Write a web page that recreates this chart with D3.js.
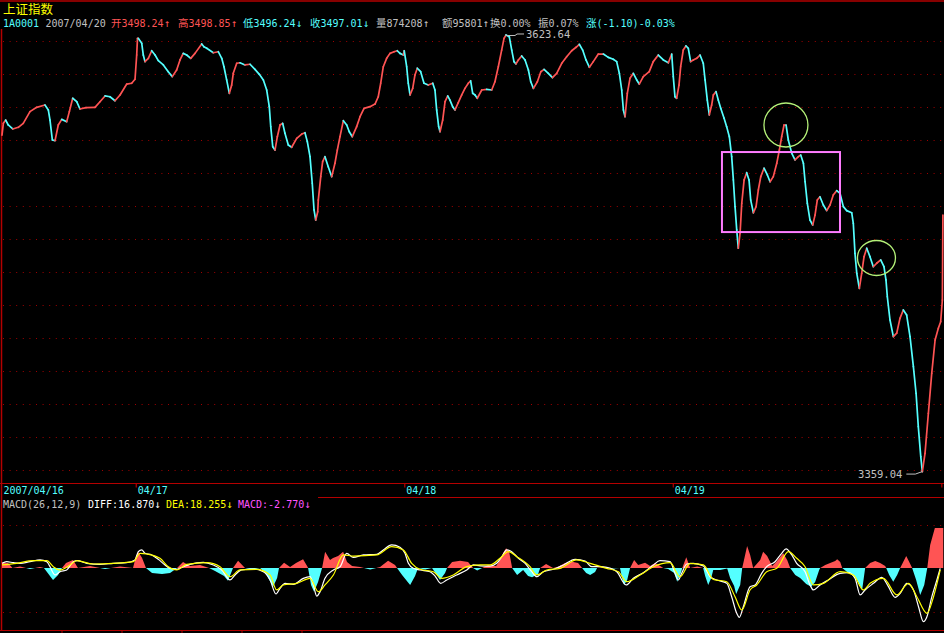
<!DOCTYPE html>
<html><head><meta charset="utf-8">
<script src="https://cdn.jsdelivr.net/npm/d3@7"></script>
<style>
html,body{margin:0;padding:0;background:#000;overflow:hidden}
svg{display:block}
</style></head><body>
<svg id="c" width="944" height="633"></svg>
<script>
// ---------------- DATA ----------------
const indexName = "上证指数";
const indexCode = "1A0001";
const quoteDate = "2007/04/20";
const quoteLabels = ["开","高","低","收","量","额","换","振"];
const quoteValues = ["3498.24","3498.85","3496.24","3497.01","874208","95801","0.00%","0.07%"];
const quoteArrows = ["↑","↑","↓","↓","↑","↑","",""];
const changeLabel = "涨";
const changeValue = "(-1.10)-0.03%";

const dayLabels = ["2007/04/16","04/17","04/18","04/19"];
const dayStartMinute = [0,120,360,600];
const dayTickMinute = [120,360,600,840];
const priceGridTicks = [3360,3380,3400,3420,3440,3460,3480,3500,3520,3540,3560,3580,3600,3620];
const macdGridTicks = [-40,40];

// [minute from start of window, index price]
const priceSeries = [
[0,3563.0],[1.2,3570.1],[3.3,3572.1],[5.6,3569.1],[9.6,3566.7],[14.6,3567.7],[19.0,3570.1],[25.0,3577.2],[31.0,3579.8],[38.4,3581.2],
[41.4,3578.2],[42.9,3572.1],[45.0,3560.0],[47.4,3559.6],[50.3,3569.1],[53.4,3572.5],[57.8,3571.1],[60.2,3577.2],[63.2,3585.3],[66.8,3583.2],
[69.7,3578.8],[75.1,3579.6],[83.1,3579.8],[87.6,3583.2],[92.1,3586.7],[96.5,3586.2],[101.0,3583.8],[105.5,3587.3],[111.5,3593.9],[115.9,3594.4],
[118.9,3596.8],[120.4,3611.5],[121.1,3621.6],[121.8,3621.6],[124.9,3618.6],[126.3,3611.5],[127.8,3607.5],[130.8,3609.5],[133.8,3614.1],[136.8,3611.5],
[139.7,3608.1],[144.2,3605.5],[148.6,3601.4],[152.2,3598.4],[156.1,3602.4],[159.1,3608.5],[162.0,3612.5],[165.1,3611.5],[168.7,3609.5],[172.5,3612.5],
[178.5,3618.2],[180.5,3616.5],[183.0,3615.6],[188.9,3612.9],[193.3,3613.5],[196.4,3609.5],[198.4,3604.4],[200.8,3596.4],[203.2,3588.3],[205.3,3593.3],
[206.7,3600.4],[209.8,3606.5],[212.7,3606.8],[217.2,3605.5],[221.7,3605.9],[226.1,3602.8],[230.0,3599.8],[233.6,3596.4],[236.6,3590.3],[238.9,3580.2],
[240.2,3568.1],[242.0,3555.9],[244.0,3553.9],[246.1,3562.0],[248.5,3569.1],[250.9,3570.1],[252.9,3564.1],[255.9,3557.0],[258.9,3555.6],[263.4,3561.0],
[267.9,3563.6],[270.8,3564.4],[272.9,3559.0],[275.3,3549.9],[277.3,3533.8],[278.9,3517.6],[280.4,3511.5],[282.2,3516.5],[282.7,3523.6],[284.9,3537.8],
[286.6,3546.9],[288.7,3549.9],[291.6,3543.8],[294.7,3537.8],[297.6,3545.9],[299.7,3553.9],[302.1,3562.0],[305.1,3571.7],[308.1,3569.1],[310.4,3565.0],
[313.1,3562.0],[317.0,3568.1],[320.0,3574.1],[323.6,3579.2],[328.9,3580.2],[333.4,3581.8],[336.3,3586.2],[338.5,3594.4],[340.8,3604.4],[343.8,3609.5],
[346.8,3612.5],[350.4,3613.5],[353.3,3614.1],[355.7,3612.5],[358.7,3611.5],[359.5,3614.1],[361.7,3604.4],[363.1,3594.4],[364.7,3587.3],[367.1,3591.3],
[369.1,3599.4],[371.2,3603.5],[374.2,3601.4],[377.2,3594.4],[381.0,3593.3],[385.0,3594.4],[387.0,3590.3],[388.5,3578.2],[390.3,3568.1],[391.5,3565.0],
[393.9,3572.1],[396.0,3583.2],[398.4,3586.7],[400.4,3584.2],[402.8,3580.2],[404.9,3578.2],[407.8,3582.6],[410.9,3587.3],[413.8,3591.3],[416.8,3594.4],
[418.9,3595.9],[420.7,3588.3],[422.8,3587.3],[424.8,3585.3],[428.8,3590.3],[433.2,3590.7],[437.7,3590.3],[440.6,3595.3],[443.6,3604.4],[446.6,3614.5],
[448.7,3621.6],[450.5,3623.64],[453.4,3622.6],[455.6,3614.5],[457.6,3607.5],[459.4,3606.1],[461.5,3608.5],[464.5,3610.9],[467.5,3608.5],[470.5,3602.4],
[472.6,3595.3],[475.0,3591.3],[478.5,3595.3],[481.6,3601.4],[484.5,3602.8],[488.3,3600.4],[492.0,3597.8],[495.8,3600.4],[500.3,3606.5],[504.7,3610.5],
[509.2,3614.1],[513.1,3616.2],[516.0,3618.0],[519.0,3614.5],[522.0,3608.5],[525.0,3604.1],[528.5,3607.5],[533.0,3612.1],[537.5,3612.1],[541.9,3610.1],
[546.4,3608.9],[549.4,3607.5],[551.8,3600.4],[553.9,3590.3],[555.4,3578.2],[556.9,3574.1],[558.9,3588.3],[561.3,3597.4],[564.3,3600.4],[567.3,3596.4],
[569.6,3593.9],[573.2,3598.4],[578.5,3601.4],[582.1,3607.5],[586.6,3611.5],[591.1,3608.5],[595.6,3606.8],[598.6,3612.1],[600.0,3598.4],[601.5,3586.2],
[603.0,3585.3],[605.1,3593.3],[606.6,3604.4],[608.9,3614.5],[611.3,3617.0],[613.4,3615.6],[615.5,3607.5],[617.9,3608.5],[620.9,3609.5],[623.9,3611.5],
[626.8,3606.5],[628.4,3596.4],[630.4,3584.2],[632.2,3575.2],[634.3,3581.2],[635.8,3587.3],[638.2,3589.3],[640.2,3584.2],[642.4,3579.2],[645.4,3573.2],
[647.7,3568.1],[650.1,3562.0],[652.2,3549.9],[653.7,3535.8],[655.2,3519.6],[656.7,3505.5],[658.1,3494.4],[659.7,3503.5],[661.2,3521.6],[663.3,3535.8],
[665.6,3540.2],[667.7,3535.8],[669.2,3523.6],[671.6,3515.9],[674.0,3519.6],[676.0,3529.7],[678.2,3537.8],[681.1,3542.9],[684.1,3538.8],[686.5,3534.7],
[689.4,3537.8],[692.5,3545.9],[694.8,3553.9],[696.9,3562.0],[699.0,3569.1],[700.8,3569.1],[702.8,3560.0],[705.9,3551.9],[708.8,3547.9],[711.8,3549.9],
[713.9,3550.9],[716.3,3545.9],[717.8,3534.7],[719.8,3521.6],[722.2,3511.5],[724.6,3508.5],[726.7,3514.5],[728.7,3523.6],[731.1,3525.6],[734.1,3520.6],
[737.1,3517.2],[740.1,3520.6],[743.0,3526.7],[746.1,3529.3],[749.0,3527.7],[752.0,3519.6],[755.0,3517.2],[759.5,3515.9],[760.9,3509.5],[762.4,3491.3],
[764.0,3479.2],[766.3,3470.1],[768.4,3479.2],[770.5,3489.3],[772.9,3494.4],[775.8,3489.3],[778.8,3483.2],[781.8,3485.3],[785.4,3487.3],[788.3,3483.2],
[790.1,3475.2],[791.3,3465.0],[793.7,3450.9],[796.7,3440.8],[799.7,3442.9],[802.6,3451.9],[805.6,3457.0],[808.6,3453.9],[811.6,3440.8],[814.6,3422.6],
[817.0,3406.5],[819.0,3386.3],[821.2,3368.1],[822.6,3359.04],[825.0,3370.1],[828.0,3394.4],[831.0,3418.6],[834.0,3438.8],[836.9,3445.9],[839.0,3449.9],
[840.5,3463.0],[841.0,3514.5]
];
const highMark = [450.5, 3623.64];
const lowMark = [822.6, 3359.04];

// MACD(26,12,9)
const macdParams = "MACD(26,12,9)";
const macdLabels = ["DIFF","DEA","MACD"];
const macdValues = ["16.870","18.255","-2.770"];
const diffSeries = [
[0,4.3],[4.2,5.8],[10.1,4.9],[16.1,4.3],[25.0,5.8],[34.0,7.4],[40.0,5.8],[42.9,1.2],[47.4,-6.4],[51.9,-3.4],[57.8,-1.8],[63.7,5.8],[67.3,6.7],
[75.7,4.3],[87.6,3.4],[99.5,4.3],[111.5,4.9],[118.9,7.4],[121.8,15.0],[124.9,16.6],[127.8,13.5],[133.8,12.0],[139.7,8.0],[145.7,2.8],[150.2,-0.3],
[156.2,-1.2],[162.1,1.2],[168.1,3.4],[179.9,5.2],[188.9,2.8],[196.4,-1.8],[203.8,-11.0],[208.3,-6.4],[214.3,-1.8],[224.6,-0.9],[233.6,-3.4],[239.6,-11.0],
[244.9,-23.9],[248.5,-18.7],[253.0,-14.1],[260.4,-15.0],[269.3,-9.5],[275.3,-8.0],[278.3,-15.6],[281.3,-25.8],[284.3,-21.8],[288.7,-9.5],[296.2,-1.8],
[302.2,1.2],[308.1,13.5],[314.0,9.8],[323.0,12.0],[335.0,12.6],[340.8,16.6],[348.3,21.2],[355.7,19.0],[360.2,13.5],[363.2,4.3],[367.6,-0.3],[373.6,-1.8],
[382.6,-3.4],[387.1,-7.4],[392.1,-14.1],[397.5,-11.0],[406.4,-6.4],[415.4,-1.8],[421.3,2.8],[427.3,2.0],[436.2,1.8],[442.2,4.3],[446.7,10.4],[451.2,16.6],
[455.6,15.0],[461.6,8.9],[467.6,4.3],[473.5,-3.4],[478.0,-8.0],[483.9,-3.4],[492.9,-1.2],[501.8,2.8],[512.3,8.0],[521.2,6.4],[527.1,1.2],[534.6,1.2],
[540.5,0.6],[549.5,-3.4],[557.8,-15.6],[564.3,-9.5],[573.2,-4.3],[582.2,2.8],[588.1,6.7],[597.1,5.8],[601.5,-4.9],[604.5,-11.0],[607.5,-4.9],[612.0,3.7],
[617.9,4.3],[626.9,1.8],[632.8,-8.0],[638.8,-11.0],[647.8,-14.1],[652.2,-26.4],[656.7,-41.7],[659.0,-45.4],[662.6,-35.6],[668.6,-17.2],[673.1,-15.6],
[679.0,-4.9],[683.5,1.2],[690.9,5.8],[696.9,13.5],[700.8,17.5],[705.9,12.0],[710.3,4.3],[717.8,-3.4],[722.2,-15.6],[725.2,-20.2],[731.2,-15.6],[738.6,-11.0],
[749.1,-4.9],[756.5,-4.3],[762.5,-9.5],[767.0,-24.8],[771.4,-20.2],[778.9,-14.1],[786.4,-8.6],[792.3,-17.2],[798.3,-27.0],[802.8,-23.3],[808.8,-14.1],
[814.7,-20.2],[819.2,-35.6],[823.6,-49.4],[826.7,-44.8],[831.1,-26.4],[835.6,-11.0],[838.6,-0.3]
];
const deaSeries = [
[0,2.8],[13.1,4.3],[28.0,6.7],[40.0,6.7],[45.9,1.2],[51.8,-1.8],[60.8,2.8],[66.8,6.7],[81.6,3.7],[99.5,4.3],[117.4,5.8],[123.4,13.5],[129.3,12.9],
[141.2,8.9],[148.6,1.2],[156.2,-1.8],[165.1,3.4],[183.0,4.9],[194.9,1.2],[203.8,-8.0],[212.7,-1.8],[227.7,-1.2],[239.6,-6.4],[245.5,-20.2],[251.4,-15.6],
[263.4,-14.1],[275.3,-9.5],[282.7,-21.8],[288.7,-15.6],[296.2,-6.4],[305.1,12.0],[314.0,11.0],[335.0,12.0],[348.3,19.6],[358.7,16.6],[366.2,4.3],
[373.6,-1.2],[385.5,-3.4],[393.0,-9.5],[403.4,-6.4],[415.4,1.2],[427.3,2.8],[436.2,2.8],[445.1,8.9],[452.6,15.0],[460.1,10.4],[472.0,1.2],[478.0,-6.4],
[486.9,-1.8],[498.8,-0.3],[513.7,7.4],[525.6,4.3],[540.5,-0.3],[550.9,-3.4],[558.4,-12.6],[570.3,-6.4],[582.2,1.2],[597.1,4.9],[606.1,-8.0],[615.0,4.3],
[626.9,2.8],[635.8,-10.4],[647.8,-12.6],[655.2,-26.4],[661.2,-38.6],[668.6,-20.2],[674.6,-15.6],[683.5,-3.4],[692.5,-0.3],[702.9,15.0],[710.3,8.9],
[717.8,1.2],[725.2,-15.6],[734.2,-14.1],[749.1,-3.4],[761.0,-6.4],[769.9,-20.2],[775.9,-14.1],[787.8,-9.5],[799.8,-24.8],[810.2,-14.1],[817.7,-26.4],
[826.7,-41.7],[832.6,-26.4],[838.6,-1.8]
];
const histSeries = [
[0,4.9],[5.4,4.6],[9.4,0],[16.1,1.4],[25,-0.9],[34,0.9],[37.5,0],[40.2,-3.7],[45.6,-11],[50.1,-6.4],[53.6,0],[57.2,4.6],[63.5,7.4],[67.9,0],
[78.7,1.8],[92.1,-0.9],[105.5,1.4],[117.1,0],[119.8,11],[122,14.7],[125.2,9.2],[128.7,0],[134.1,-4.6],[143,-5.5],[150.2,-4.6],[156.5,0],[161.8,5.5],
[168.1,1.8],[177,2.8],[185.1,0],[190.4,-2.8],[198.5,-7.4],[202,-11.7],[206.5,0],[211,6.7],[217.2,0],[223.5,-1.4],[230.7,0],[236,-5.5],[242.3,-17.2],
[245.9,-9.2],[247.6,0],[252.1,4.9],[257.5,0.9],[262.8,4.6],[269.1,8],[272.7,1.8],[273.6,0],[276.2,-15.6],[278.9,-21.8],[282.5,-12.9],[286.1,0],
[288.8,15],[293.2,7.4],[295.9,9.2],[300.4,11],[304.9,15],[308.4,5.5],[312.9,1.8],[320.1,0.9],[329,-1.4],[337.9,0.9],[345.1,6.7],[351.3,2.8],[353.1,0],
[357.6,-6.4],[364.8,-15.6],[369.2,-7.4],[371.9,0],[378.2,-1.4],[384.4,0],[388,-5.5],[391.5,-11],[396,-4.6],[397.8,0],[402.3,5.5],[409.5,6.7],[416.6,5.5],
[421,0],[424.7,-2.3],[429.1,0],[434.5,2.8],[441.6,1.8],[445.2,7.4],[447.9,13.8],[450.6,18.1],[453.3,14.7],[456,0],[460.4,-6.4],[465.8,-1.8],[470.2,-7.4],
[473.8,-8.6],[479.2,-5.5],[481,0],[486.3,3.7],[492.6,0],[497,1.2],[503.3,4.6],[509.6,5.8],[514.9,4.6],[518.5,0],[522.1,-4.6],[525.7,-6.4],[530.1,-3.7],
[531.9,0],[539,0.9],[545.3,-0.5],[552.4,0],[554.2,-9.2],[556,-15.6],[558.8,-11],[561.4,0],[565,7.4],[568.6,2.8],[574.8,4.9],[579.3,1.8],[583.8,4.6],
[588.3,1.8],[591,0],[595.4,-0.9],[600.8,-4.6],[603.5,-12.6],[607.1,-3.7],[608,0],[611.6,9.8],[615.1,0],[621.4,1.4],[626.7,0],[628.5,-7.4],[631.2,-15.6],
[633.9,-9.2],[635.7,-1.8],[641.9,-1.8],[648.2,-0.5],[650.8,-9.2],[654.4,-16.6],[656.2,-23.9],[659.8,-15.6],[661.6,0],[664.2,12],[666,20.2],[668.7,12],
[671.4,0],[677.7,7.4],[680.3,15],[683.9,11],[688.4,1.8],[691.9,5.5],[695.5,10.1],[698.2,13.5],[701.8,7.4],[704.5,0],[709,-6.4],[713.4,-9.2],[718.8,-14.7],
[723.3,-17.2],[726.8,-12.9],[730.4,-1.8],[731.3,0],[735.8,2.8],[740.2,4.6],[744.7,6.4],[746.5,8],[749.2,5.5],[751,0],[755.4,-3.7],[759.9,-6.4],
[764.4,-11],[768.8,-20.2],[771.5,0],[775.9,4.6],[780.5,6.4],[784.9,4.6],[789.4,1.8],[790.3,0],[793,-6.4],[796.6,-12.6],[800.1,-6.4],[802.8,0],
[805.5,5.5],[808.2,11],[810.9,5.5],[813.5,0],[817.1,-11],[820.7,-24.8],[824.3,-15.6],[827,0],[829.6,21.2],[833.8,36.8],[841.3,36.8]
];

// hand-drawn annotations (data coordinates)
const boxAnnotation = {m0: 643.5, m1: 749.0, p0: 3552.7, p1: 3504.2};
const circleAnnotations = [{m: 700.7, p: 3569.1}, {m: 781.6, p: 3488.5}];

// ---------------- STYLE ----------------
const RED = "#ff5454", CYAN = "#54ffff", GRAY = "#c0c0c0", YELLOW = "#ffff00",
      MAGENTA = "#ff54ff", WHITE = "#ffffff", AXIS = "#b40000", GRID = "#a00000";
const MONO = "'DejaVu Sans Mono', monospace";
const CJK = "'Noto Sans CJK SC', sans-serif";

const svg = d3.select("#c");
svg.append("rect").attr("width",944).attr("height",633).attr("fill","#000");

const x = d3.scaleLinear().domain([0,840]).range([2,941.8]);
const y = d3.scaleLinear().domain([3360,3620]).range([470,41]);
const ym = d3.scaleLinear().domain([-40,40]).range([611.5,524.5]);

// frame lines
svg.append("line").attr("x1",0).attr("x2",944).attr("y1",1).attr("y2",1).attr("stroke",AXIS).attr("stroke-width",1.5);
svg.append("line").attr("x1",1.5).attr("x2",1.5).attr("y1",29).attr("y2",631).attr("stroke",AXIS).attr("stroke-width",1.5);
svg.append("line").attr("x1",0).attr("x2",944).attr("y1",483.5).attr("y2",483.5).attr("stroke",AXIS).attr("stroke-width",1.2);
svg.append("line").attr("x1",318).attr("x2",944).attr("y1",497.5).attr("y2",497.5).attr("stroke",AXIS).attr("stroke-width",1.2);
svg.append("line").attr("x1",0).attr("x2",944).attr("y1",630.5).attr("y2",630.5).attr("stroke",AXIS).attr("stroke-width",1.2);
svg.selectAll("line.sb").data(d3.range(5)).join("line").attr("class","sb")
  .attr("x1",(d,i)=>62+i*60).attr("x2",(d,i)=>62+i*60).attr("y1",630).attr("y2",633)
  .attr("stroke",AXIS).attr("stroke-width",1);

// price grid
svg.selectAll("line.pg").data(priceGridTicks).join("line").attr("class","pg")
  .attr("x1",3).attr("x2",944).attr("y1",d=>Math.round(y(d))+0.5).attr("y2",d=>Math.round(y(d))+0.5)
  .attr("stroke",GRID).attr("stroke-width",1).attr("stroke-dasharray","1,5.6");
// macd grid
svg.selectAll("line.mg").data(macdGridTicks).join("line").attr("class","mg")
  .attr("x1",3).attr("x2",944).attr("y1",d=>Math.round(ym(d))+0.5).attr("y2",d=>Math.round(ym(d))+0.5)
  .attr("stroke",GRID).attr("stroke-width",1).attr("stroke-dasharray","1,5.6");

// day ticks + labels
svg.selectAll("line.dt").data(dayTickMinute).join("line").attr("class","dt")
  .attr("x1",d=>x(d)).attr("x2",d=>x(d)).attr("y1",483).attr("y2",487.5)
  .attr("stroke",AXIS).attr("stroke-width",1.2);
svg.selectAll("text.dl").data(dayLabels).join("text").attr("class","dl")
  .attr("x",(d,i)=>x(dayStartMinute[i])+1.5).attr("y",493.5)
  .attr("fill",CYAN).attr("font-family",MONO).attr("font-size","10px").text(d=>d);

// price line, coloured by direction
const pts = priceSeries.map(d=>({m:d[0], v:d[1]}));
svg.append("g").selectAll("line").data(d3.pairs(pts)).join("line")
  .attr("x1",d=>x(d[0].m)).attr("y1",d=>y(d[0].v)).attr("x2",d=>x(d[1].m)).attr("y2",d=>y(d[1].v))
  .attr("stroke",d=>d[1].v>=d[0].v?RED:CYAN).attr("stroke-width",1.7).attr("stroke-linecap","round");

// extreme labels
function extreme(mark, side){
  const x0 = x(mark[0]), y0 = y(mark[1]);
  const g = svg.append("g");
  if(side>0){
    g.append("polyline").attr("points",[[x0,y0+0.5],[x0+9,y0+0.5],[x0+11,y0-1],[x0+18,y0-1]].join(" "))
      .attr("fill","none").attr("stroke",GRAY).attr("stroke-width",1);
    g.append("text").attr("x",x0+20).attr("y",y0+3.5).attr("fill",GRAY).attr("font-family",MONO)
      .attr("font-size","10.5px").text(mark[1].toFixed(2));
  } else {
    g.append("polyline").attr("points",[[x0,y0],[x0-7,y0+2.5],[x0-16,y0+2.5]].join(" "))
      .attr("fill","none").attr("stroke",GRAY).attr("stroke-width",1);
    g.append("text").attr("x",x0-20).attr("y",y0+6.5).attr("text-anchor","end").attr("fill",GRAY).attr("font-family",MONO)
      .attr("font-size","10.5px").text(mark[1].toFixed(2));
  }
}
extreme(highMark, 1);
extreme(lowMark, -1);

// annotations
svg.append("rect")
  .attr("x",x(boxAnnotation.m0)).attr("y",y(boxAnnotation.p0))
  .attr("width",x(boxAnnotation.m1)-x(boxAnnotation.m0)).attr("height",y(boxAnnotation.p1)-y(boxAnnotation.p0))
  .attr("fill","none").attr("stroke","#ff7cff").attr("stroke-width",2);
svg.selectAll("ellipse.ca").data(circleAnnotations).join("ellipse").attr("class","ca")
  .attr("cx",d=>x(d.m)).attr("cy",d=>y(d.p)).attr("rx",(d,i)=>i===0?22:19).attr("ry",(d,i)=>i===0?22:17.5)
  .attr("fill","none").attr("stroke","#b4f078").attr("stroke-width",1.3);

// MACD histogram (area, clipped by sign)
const defs = svg.append("defs");
defs.append("clipPath").attr("id","pos").append("rect").attr("x",0).attr("y",498).attr("width",944).attr("height",ym(0)-498);
defs.append("clipPath").attr("id","neg").append("rect").attr("x",0).attr("y",ym(0)).attr("width",944).attr("height",630-ym(0));
const histArea = d3.area().x(d=>x(d[0])).y0(ym(0)).y1(d=>ym(d[1]));
svg.append("path").attr("d",histArea(histSeries)).attr("fill",RED).attr("clip-path","url(#pos)");
svg.append("path").attr("d",histArea(histSeries)).attr("fill",CYAN).attr("clip-path","url(#neg)");

const mline = d3.line().x(d=>x(d[0])).y(d=>ym(d[1])).curve(d3.curveMonotoneX);
svg.append("path").attr("d",mline(diffSeries)).attr("fill","none").attr("stroke",WHITE).attr("stroke-width",1.2);
svg.append("path").attr("d",mline(deaSeries)).attr("fill","none").attr("stroke",YELLOW).attr("stroke-width",1.2);

// ---------------- TEXT ----------------
svg.append("text").attr("x",3).attr("y",13.8).attr("fill",YELLOW).attr("font-family",CJK)
  .attr("font-size","12.5px").text(indexName);

function item(xp, yp, parts){
  const t = svg.append("text").attr("x",xp).attr("y",yp);
  parts.forEach(p=>{
    t.append("tspan").attr("fill",p.c).attr("font-family",p.cjk?CJK:MONO)
      .attr("font-size",p.cjk?"10.5px":(p.a?"10.5px":"10px")).text(p.t);
  });
}
const hy = 26.5;
item(3, hy, [{t:indexCode, c:CYAN}]);
item(45.5, hy, [{t:quoteDate, c:GRAY}]);
const quoteX = [111,178,243,310,376,442,490,538];
const quoteColor = [RED,RED,CYAN,CYAN,GRAY,GRAY,GRAY,GRAY];
quoteLabels.forEach((l,i)=>{
  item(quoteX[i], hy, [{t:l,c:quoteColor[i],cjk:true},{t:quoteValues[i],c:quoteColor[i]},{t:quoteArrows[i],c:quoteColor[i],a:true}]);
});
item(586, hy, [{t:changeLabel,c:CYAN,cjk:true},{t:changeValue,c:CYAN}]);

const my = 507.7;
item(3, my, [{t:macdParams, c:GRAY}]);
const macdX = [88,166,238];
const macdColor = [WHITE,YELLOW,MAGENTA];
macdLabels.forEach((l,i)=>{
  item(macdX[i], my, [{t:l+":"+macdValues[i], c:macdColor[i]},{t:"↓", c:macdColor[i], a:true}]);
});
</script>
</body></html>
